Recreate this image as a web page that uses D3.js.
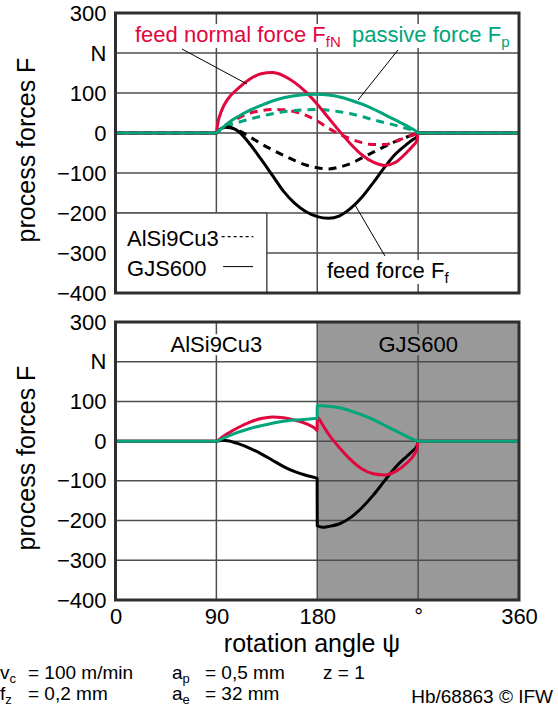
<!DOCTYPE html>
<html>
<head>
<meta charset="utf-8">
<style>
body, html {
	margin: 0;
	padding: 0;
	background: #fff;
}
svg {
	display: block;
}
</style>
</head>
<body>
<div id="chartContainer"></div>

<script src="https://cdn.jsdelivr.net/npm/d3@7/dist/d3.min.js"></script>
<script>

// rotation angle psi in degrees, shared by all series of a panel
const angleTop = [0, 90, 91, 95, 100, 110, 120, 130, 140, 150, 160, 170, 180, 190, 200, 210, 220, 230, 240, 250, 260, 265, 269, 270, 360];
const angleBottom = [0, 90, 95, 100, 110, 120, 130, 140, 150, 160, 170, 178, 179.9, 180, 185, 190, 200, 210, 220, 230, 240, 250, 260, 265, 269, 270, 360];

// top panel, GJS600 (solid) in N
const topFfGJS = [0, 0, 4, 12, 15, 3, -28, -66, -106, -146, -176, -197, -209, -213, -207, -188, -160, -124, -86, -52, -28, -17, -9, 0, 0];
const topFfNGJS = [0, 0, 20, 58, 84, 113, 135, 148, 151, 143, 126, 102, 72, 38, 4, -28, -55, -73, -81, -73, -48, -33, -18, 0, 0];
const topFpGJS = [0, 0, 3, 12, 24, 42, 57, 69, 80, 88, 93, 96, 97, 95, 90, 82, 72, 60, 46, 32, 18, 10, 3, 0, 0];

// top panel, AlSi9Cu3 (dashed) in N
const topFfAl = [0, 0, 3, 10, 14, 6, -10, -27, -42, -56, -69, -80, -87, -90, -85, -76, -62, -48, -34, -21, -10, -5, -1, 0, 0];
const topFfNAl = [0, 0, 3, 12, 22, 38, 50, 56, 59, 58, 53, 44, 30, 12, -3, -15, -24, -29, -29, -21, -10, -5, -1, 0, 0];
const topFpAl = [0, 0, 2, 11, 18, 27, 35, 42, 48, 53, 56, 58, 59, 57, 53, 48, 41, 33, 26, 19, 11, 7, 2, 0, 0];

// bottom panel, AlSi9Cu3 up to 180 deg, GJS600 after
const bottomFf = [0, 0, 2, 1, -7, -18, -32, -48, -64, -77, -86, -92, -94, -213, -217, -215, -208, -192, -167, -136, -100, -65, -38, -25, -12, 0, 0];
const bottomFfN = [0, 0, 10, 19, 35, 48, 57, 61, 59, 53, 44, 32, 27, 60, 40, 18, -17, -47, -70, -82, -85, -76, -55, -40, -18, 0, 0];
const bottomFp = [0, 0, 6, 12, 23, 32, 39, 45, 50, 53, 55, 57, 57, 90, 89, 88, 84, 76, 66, 54, 40, 26, 12, 5, 1, 0, 0];

const forceTicks = [-400, -300, -200, -100, 0, 100, 200, 300];
const angleTicks = [0, 90, 180, 270, 360];
const angleGrid = [90, 180, 270];

const FONT = '"Liberation Sans", Arial, sans-serif';
const RED = '#e2063f';
const GREEN = '#00a57c';
const BLACK = '#000';
const GRID_COLOR = '#4d4d4d';
const FRAME_COLOR = '#2e2e2e';
const SHADE_COLOR = '#999';
const CURVE_WIDTH = 3;
const DASH = '8,6';
const TEXT_SIZE = 22;

var svg = d3.select('#chartContainer').append('svg')
	.attr('width', 558)
	.attr('height', 708)
	.style('font-family', FONT);

var x = d3.scaleLinear().domain([0, 360]).range([115.5, 519]);
var yTop = d3.scaleLinear().domain([-400, 300]).range([293, 13]);
var yBottom = d3.scaleLinear().domain([-400, 300]).range([600, 322]);

function forceLabel(d) {
	if (d === 200) return 'N';
	return d < 0 ? '\u2212' + Math.abs(d) : String(d);
}

function zip(angles, values) {
	return angles.map((a, i) => [a, values[i]]);
}

// text with a trailing subscript, e.g. F + fN
function subText(g, px, py, main, sub, color, anchor) {
	var t = g.append('text')
		.attr('x', px)
		.attr('y', py)
		.attr('fill', color)
		.attr('font-size', TEXT_SIZE)
		.attr('text-anchor', anchor || 'start');
	t.append('tspan').text(main);
	if (sub) t.append('tspan').attr('font-size', 15).attr('dy', 5).text(sub);
	return t;
}

function backdrop(g, textSel, fill) {
	var b = textSel.node().getBBox();
	g.insert('rect', function() { return textSel.node(); })
		.attr('x', b.x - 2)
		.attr('y', b.y + 2)
		.attr('width', b.width + 4)
		.attr('height', b.height - 4)
		.attr('fill', fill);
}

function drawPanel(y, angles, series, shade) {
	var panel = svg.append('g');

	if (shade) {
		panel.append('rect')
			.attr('x', x(180))
			.attr('y', y(300))
			.attr('width', x(360) - x(180))
			.attr('height', y(-400) - y(300))
			.attr('fill', SHADE_COLOR);
	}

	var grid = panel.append('g').attr('stroke', GRID_COLOR).attr('stroke-width', 1.5);
	grid.selectAll('.hgrid')
		.data(forceTicks)
		.enter().append('line')
			.attr('class', 'hgrid')
			.attr('x1', x(0)).attr('x2', x(360))
			.attr('y1', (d) => y(d)).attr('y2', (d) => y(d));
	grid.selectAll('.vgrid')
		.data(angleGrid)
		.enter().append('line')
			.attr('class', 'vgrid')
			.attr('x1', (d) => x(d)).attr('x2', (d) => x(d))
			.attr('y1', y(300)).attr('y2', y(-400));

	var yAxis = d3.axisLeft(y)
		.tickValues(forceTicks)
		.tickSize(0)
		.tickPadding(9)
		.tickFormat(forceLabel);
	panel.append('g')
		.attr('transform', `translate(${x(0)},0)`)
		.call(yAxis)
		.call((g) => g.select('.domain').remove())
		.attr('font-family', FONT)
		.attr('font-size', TEXT_SIZE)
		.selectAll('text').attr('fill', '#000');

	panel.append('text')
		.attr('transform', `translate(35,${(y(300) + y(-400)) / 2 - 3}) rotate(-90)`)
		.attr('text-anchor', 'middle')
		.attr('font-size', 25)
		.text('process forces F');

	var line = d3.line()
		.x((d) => x(d[0]))
		.y((d) => y(d[1]))
		.curve(d3.curveMonotoneX);

	panel.append('g').attr('class', 'curves')
		.selectAll('path')
		.data(series)
		.enter().append('path')
			.attr('d', (d) => line(zip(angles, d.values)))
			.attr('fill', 'none')
			.attr('stroke', (d) => d.color)
			.attr('stroke-width', CURVE_WIDTH)
			.attr('stroke-dasharray', (d) => d.dashed ? DASH : null)
			.attr('stroke-linejoin', 'round');

	return panel;
}

function drawFrame(panel, y) {
	panel.append('rect')
		.attr('x', x(0))
		.attr('y', y(300))
		.attr('width', x(360) - x(0))
		.attr('height', y(-400) - y(300))
		.attr('fill', 'none')
		.attr('stroke', FRAME_COLOR)
		.attr('stroke-width', 3);
}

// ---- top panel: both materials
var topPanel = drawPanel(yTop, angleTop, [
	{ values: topFfAl, color: BLACK, dashed: true },
	{ values: topFfNAl, color: RED, dashed: true },
	{ values: topFpAl, color: GREEN, dashed: true },
	{ values: topFfGJS, color: BLACK },
	{ values: topFfNGJS, color: RED },
	{ values: topFpGJS, color: GREEN }
], false);

// legend box
var legend = topPanel.append('g');
legend.append('rect')
	.attr('x', x(0))
	.attr('y', yTop(-200))
	.attr('width', x(135) - x(0))
	.attr('height', yTop(-400) - yTop(-200))
	.attr('fill', '#fff')
	.attr('stroke', GRID_COLOR)
	.attr('stroke-width', 1.5);
subText(legend, x(10.3), yTop(-282), 'AlSi9Cu3', null, '#000');
subText(legend, x(10.3), yTop(-357), 'GJS600', null, '#000');
legend.append('line')
	.attr('x1', x(94.7)).attr('x2', x(123))
	.attr('y1', yTop(-259)).attr('y2', yTop(-259))
	.attr('stroke', '#000').attr('stroke-width', 1.3)
	.attr('stroke-dasharray', '3,3');
legend.append('line')
	.attr('x1', x(96)).attr('x2', x(122.7))
	.attr('y1', yTop(-334)).attr('y2', yTop(-334))
	.attr('stroke', '#000').attr('stroke-width', 1);

// curve labels with leader lines
var leaders = [
	{ from: [59.3, 210], to: [117.3, 122.5] },
	{ from: [252, 207.5], to: [216.4, 82.5] },
	{ from: [213.7, -180], to: [240.4, -307.5] }
];
topPanel.append('g').selectAll('line')
	.data(leaders)
	.enter().append('line')
		.attr('x1', (d) => x(d.from[0])).attr('y1', (d) => yTop(d.from[1]))
		.attr('x2', (d) => x(d.to[0])).attr('y2', (d) => yTop(d.to[1]))
		.attr('stroke', '#000')
		.attr('stroke-width', 1);

var labels = topPanel.append('g');
var lblFfN = subText(labels, x(17.4), yTop(227.5), 'feed normal force F', 'fN', RED);
var lblFp = subText(labels, x(211), yTop(227.5), 'passive force F', 'p', GREEN);
var lblFf = subText(labels, x(188.7), yTop(-362.5), 'feed force F', 'f', '#000');
[lblFfN, lblFp, lblFf].forEach((t) => backdrop(labels, t, '#fff'));

drawFrame(topPanel, yTop);

// ---- bottom panel: material change at 180 deg
var bottomPanel = drawPanel(yBottom, angleBottom, [
	{ values: bottomFf, color: BLACK },
	{ values: bottomFfN, color: RED },
	{ values: bottomFp, color: GREEN }
], true);

var matLabels = bottomPanel.append('g');
var lblAl = subText(matLabels, x(90), yBottom(224), 'AlSi9Cu3', null, '#000', 'middle');
var lblGjs = subText(matLabels, x(270), yBottom(224), 'GJS600', null, '#000', 'middle');
backdrop(matLabels, lblAl, '#fff');
backdrop(matLabels, lblGjs, SHADE_COLOR);

var xAxis = d3.axisBottom(x)
	.tickValues(angleTicks)
	.tickSize(0)
	.tickPadding(8)
	.tickFormat((d) => d === 270 ? '\u00b0' : String(d));
bottomPanel.append('g')
	.attr('transform', `translate(0,${yBottom(-400)})`)
	.call(xAxis)
	.call((g) => g.select('.domain').remove())
	.attr('font-family', FONT)
	.attr('font-size', TEXT_SIZE)
	.selectAll('text').attr('fill', '#000');

bottomPanel.append('text')
	.attr('x', 312)
	.attr('y', 652)
	.attr('text-anchor', 'middle')
	.attr('font-size', 25)
	.text('rotation angle \u03c8');

drawFrame(bottomPanel, yBottom);

// ---- cutting parameters
var foot = svg.append('g').attr('fill', '#000');
function param(px, py, main, sub, rest) {
	var t = foot.append('text').attr('x', px).attr('y', py).attr('font-size', 19);
	t.append('tspan').text(main);
	t.append('tspan').attr('font-size', 13).attr('dy', 4).text(sub);
	t.append('tspan').attr('x', px < 20 ? 28 : px + 33).attr('dy', -4).text(rest);
}
param(0, 679, 'v', 'c', '= 100 m/min');
param(0, 700, 'f', 'z', '= 0,2 mm');
param(172, 679, 'a', 'p', '= 0,5 mm');
param(172, 700, 'a', 'e', '= 32 mm');
foot.append('text').attr('x', 323).attr('y', 679).attr('font-size', 19).text('z = 1');
foot.append('text').attr('x', 553).attr('y', 703).attr('font-size', 19)
	.attr('text-anchor', 'end').text('Hb/68863 \u00a9 IFW');

</script>
</body>
</html>
